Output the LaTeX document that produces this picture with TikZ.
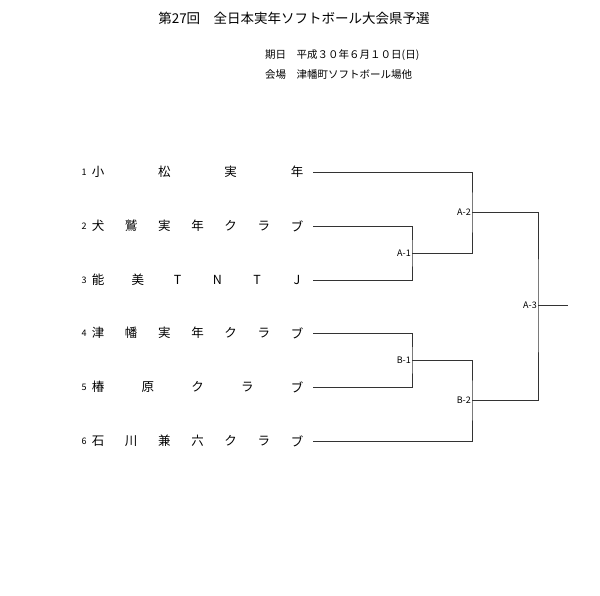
\documentclass[tikz,border=0pt]{standalone}
\usepackage{fontspec}
\newfontfamily\cjk{Noto Sans CJK JP}
\begin{document}
\begin{tikzpicture}[x=1pt,y=-1pt,
  ln/.style={draw=black!80,line width=0.9pt},
  ch/.style={font=\cjk\fontsize{12.5}{12.5}\selectfont,inner sep=0pt},
  num/.style={font=\cjk\fontsize{9}{9}\selectfont,inner sep=0pt},
  lab/.style={font=\cjk\fontsize{9}{9}\selectfont,inner sep=1pt,anchor=east}]
\useasboundingbox (0,0) rectangle (600,596);
\node[font=\cjk\fontsize{13.5}{13.5}\selectfont,inner sep=0pt] (title) at (294,18) {第27回　全日本実年ソフトボール大会県予選};
\node[font=\cjk\fontsize{10.5}{10.5}\selectfont,inner sep=0pt,anchor=west] (d1) at (265,55) {期日　平成３０年６月１０日(日)};
\node[font=\cjk\fontsize{10.5}{10.5}\selectfont,inner sep=0pt,anchor=west] (d2) at (265,75) {会場　津幡町ソフトボール場他};
\foreach \i/\y/\name in {1/172/{小,松,実,年},2/226/{犬,鷲,実,年,ク,ラ,ブ},3/280/{能,美,T,N,T,J},4/333/{津,幡,実,年,ク,ラ,ブ},5/387/{椿,原,ク,ラ,ブ},6/441/{石,川,兼,六,ク,ラ,ブ}}{
  \node[num] (n\i) at (84,\y) {\i};
  \def\cnt{0}
  \foreach \c in \name {\xdef\cnt{\the\numexpr\cnt+1\relax}}
  \foreach \c [count=\k] in \name {
    \pgfmathsetmacro\xx{98+(\k-1)*199/(\cnt-1)}
    \node[ch] (t\i-\k) at (\xx,\y) {\c};
  }
  \coordinate (e\i) at (313,\y);
}
\coordinate (a1) at (412,253);
\coordinate (b1) at (412,360);
\coordinate (a2) at (472,212);
\coordinate (b2) at (472,400);
\coordinate (a3) at (538,305);
\coordinate (fin) at (568,305);
\draw[ln] (e2) -| (a1) |- (e3);
\draw[ln] (e4) -| (b1) |- (e5);
\draw[ln] (e1) -| (a2) |- (a1);
\draw[ln] (b1) -| (b2) |- (e6);
\draw[ln] (a2) -| (a3) |- (b2);
\draw[ln] (a3) -- (fin);
\node[lab] (la1) at (a1) {A-1};
\node[lab] (lb1) at (b1) {B-1};
\node[lab] (la2) at (a2) {A-2};
\node[lab] (lb2) at (b2) {B-2};
\node[lab] (la3) at (a3) {A-3};
\end{tikzpicture}
\end{document}
